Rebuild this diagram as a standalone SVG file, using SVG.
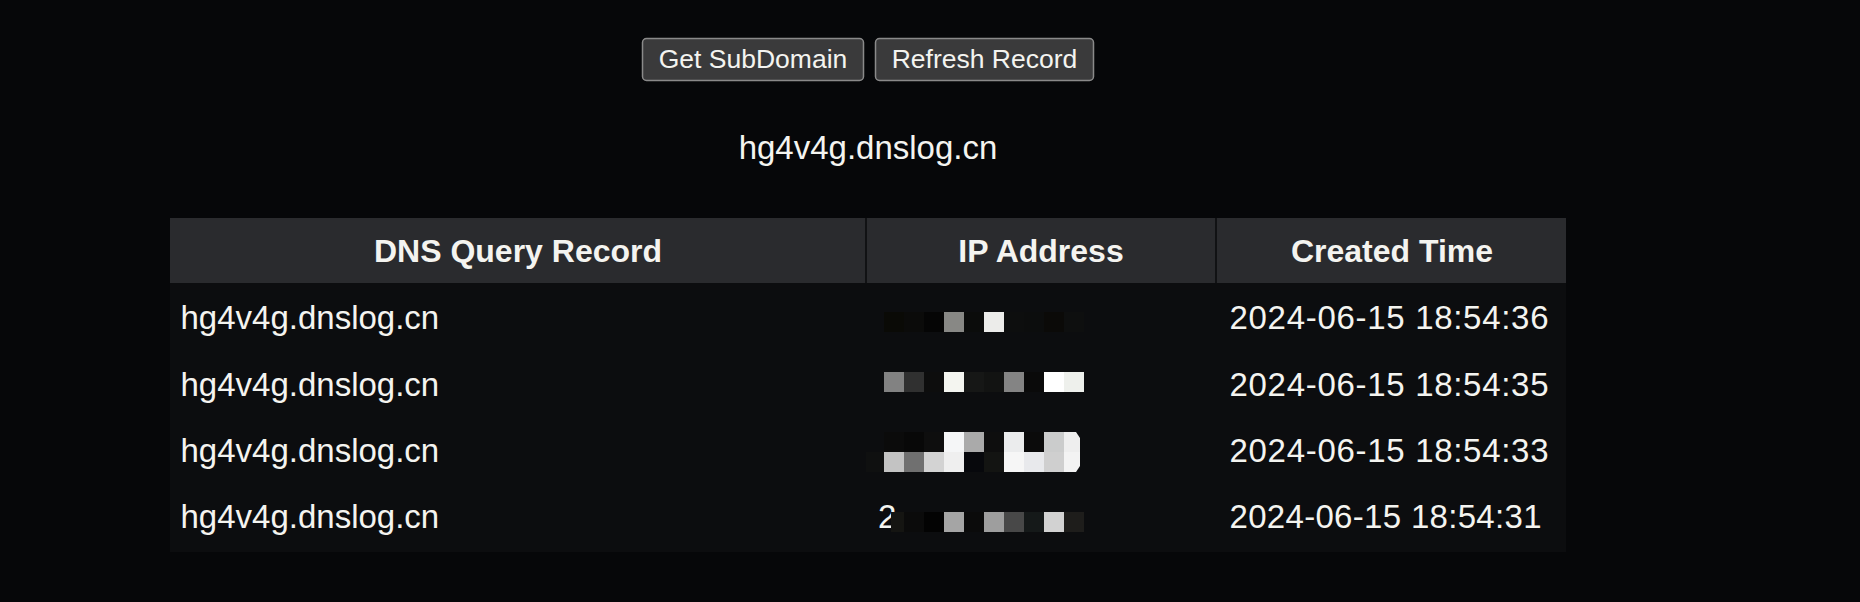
<svg xmlns="http://www.w3.org/2000/svg" width="1860" height="602" viewBox="0 0 1860 602">
<style>
.t{font-family:"Liberation Sans",Arial,sans-serif;fill:#f4f4f0}
.btn{fill:#3a3a3b;stroke:#8a8a8a;stroke-width:1.5}
.btxt{font-size:26.5px;text-anchor:middle}
.hd{font-size:32px;font-weight:bold;text-anchor:middle}
.bd{font-size:33px}
</style>
<rect x="0" y="0" width="1860" height="602" fill="#060709"/>
<g id="btn-get-subdomain">
<rect class="btn" x="642.5" y="38.5" width="221" height="42" rx="4"/>
<text class="t btxt" x="753" y="67.5">Get SubDomain</text>
</g>
<g id="btn-refresh-record">
<rect class="btn" x="875.5" y="38.5" width="218" height="42" rx="4"/>
<text class="t btxt" x="984.5" y="67.5">Refresh Record</text>
</g>
<g id="domain">
<text class="t bd" x="868" y="159" text-anchor="middle">hg4v4g.dnslog.cn</text>
</g>
<g id="table">
<rect x="170" y="218" width="1396" height="334" fill="#0c0d0f"/>
<rect x="170" y="218" width="1396" height="65" fill="#2a2b2e"/>
<rect x="865" y="218" width="2" height="65" fill="#111214"/>
<rect x="1215" y="218" width="2" height="65" fill="#111214"/>
<text class="t hd" x="518" y="262">DNS Query Record</text>
<text class="t hd" x="1041" y="262">IP Address</text>
<text class="t hd" x="1392" y="262">Created Time</text>
</g>
<g id="row1">
<text class="t bd" x="180.5" y="329">hg4v4g.dnslog.cn</text>
<g>
<rect x="884" y="312" width="20" height="20" fill="#0a0a06"/>
<rect x="904" y="312" width="20" height="20" fill="#0b0b0a"/>
<rect x="924" y="312" width="20" height="20" fill="#050505"/>
<rect x="944" y="312" width="20" height="20" fill="#888885"/>
<rect x="964" y="312" width="20" height="20" fill="#0b0c0b"/>
<rect x="984" y="312" width="20" height="20" fill="#ececea"/>
<rect x="1004" y="312" width="20" height="20" fill="#0d0e0e"/>
<rect x="1024" y="312" width="20" height="20" fill="#0c0d0d"/>
<rect x="1044" y="312" width="20" height="20" fill="#0b0a08"/>
<rect x="1064" y="312" width="20" height="20" fill="#0e0f0f"/>
</g>
<text class="t bd" x="1229.5" y="329" textLength="319" lengthAdjust="spacing">2024-06-15 18:54:36</text>
</g>
<g id="row2">
<text class="t bd" x="180.5" y="395.5">hg4v4g.dnslog.cn</text>
<g>
<rect x="884" y="372" width="20" height="20" fill="#828282"/>
<rect x="904" y="372" width="20" height="20" fill="#303030"/>
<rect x="924" y="372" width="20" height="20" fill="#0d0d0d"/>
<rect x="944" y="372" width="20" height="20" fill="#f4f5f0"/>
<rect x="964" y="372" width="20" height="20" fill="#161716"/>
<rect x="984" y="372" width="20" height="20" fill="#121312"/>
<rect x="1004" y="372" width="20" height="20" fill="#848484"/>
<rect x="1024" y="372" width="20" height="20" fill="#0a0a0a"/>
<rect x="1044" y="372" width="20" height="20" fill="#ffffff"/>
<rect x="1064" y="372" width="20" height="20" fill="#eef0ec"/>
</g>
<text class="t bd" x="1229.5" y="395.5" textLength="319" lengthAdjust="spacing">2024-06-15 18:54:35</text>
</g>
<g id="row3">
<text class="t bd" x="180.5" y="461.5">hg4v4g.dnslog.cn</text>
<g>
<rect x="884" y="432" width="20" height="20" fill="#0b0b0b"/>
<rect x="904" y="432" width="20" height="20" fill="#080808"/>
<rect x="924" y="432" width="20" height="20" fill="#0e0e0e"/>
<rect x="944" y="432" width="20" height="20" fill="#f5f6f7"/>
<rect x="964" y="432" width="20" height="20" fill="#aaaaaa"/>
<rect x="984" y="432" width="20" height="20" fill="#0e0e0e"/>
<rect x="1004" y="432" width="20" height="20" fill="#ebeced"/>
<rect x="1024" y="432" width="20" height="20" fill="#0b0b0b"/>
<rect x="1044" y="432" width="20" height="20" fill="#cbcccc"/>
<path d="M1064 432h12l4 6v14h-16z" fill="#eeeeee"/>
<rect x="866" y="452" width="18" height="20" fill="#0f1010"/>
<rect x="884" y="452" width="20" height="20" fill="#c3c3c3"/>
<rect x="904" y="452" width="20" height="20" fill="#707070"/>
<rect x="924" y="452" width="20" height="20" fill="#d3d3d3"/>
<rect x="944" y="452" width="20" height="20" fill="#efefef"/>
<rect x="964" y="452" width="20" height="20" fill="#07080c"/>
<rect x="984" y="452" width="20" height="20" fill="#131412"/>
<rect x="1004" y="452" width="20" height="20" fill="#f6f6f6"/>
<rect x="1024" y="452" width="20" height="20" fill="#e8e9ec"/>
<rect x="1044" y="452" width="20" height="20" fill="#cfcfcf"/>
<path d="M1064 452h16v14l-4 6h-12z" fill="#f3f3f3"/>
</g>
<text class="t bd" x="1229.5" y="461.5" textLength="319" lengthAdjust="spacing">2024-06-15 18:54:33</text>
</g>
<g id="row4">
<text class="t bd" x="180.5" y="528">hg4v4g.dnslog.cn</text>
<text class="t bd" x="878" y="528">2</text>
<g>
<rect x="891" y="512" width="13" height="20" fill="#151512"/>
<rect x="904" y="512" width="20" height="20" fill="#0b0b0b"/>
<rect x="924" y="512" width="20" height="20" fill="#030303"/>
<rect x="944" y="512" width="20" height="20" fill="#a5a5a5"/>
<rect x="964" y="512" width="20" height="20" fill="#0b0b0b"/>
<rect x="984" y="512" width="20" height="20" fill="#9e9e9e"/>
<rect x="1004" y="512" width="20" height="20" fill="#484848"/>
<rect x="1024" y="512" width="20" height="20" fill="#151919"/>
<rect x="1044" y="512" width="20" height="20" fill="#d2d2d2"/>
<rect x="1064" y="512" width="20" height="20" fill="#1e1d1b"/>
</g>
<text class="t bd" x="1229.5" y="528" textLength="312" lengthAdjust="spacing">2024-06-15 18:54:31</text>
</g>
<g id="connectors"/>
</svg>
